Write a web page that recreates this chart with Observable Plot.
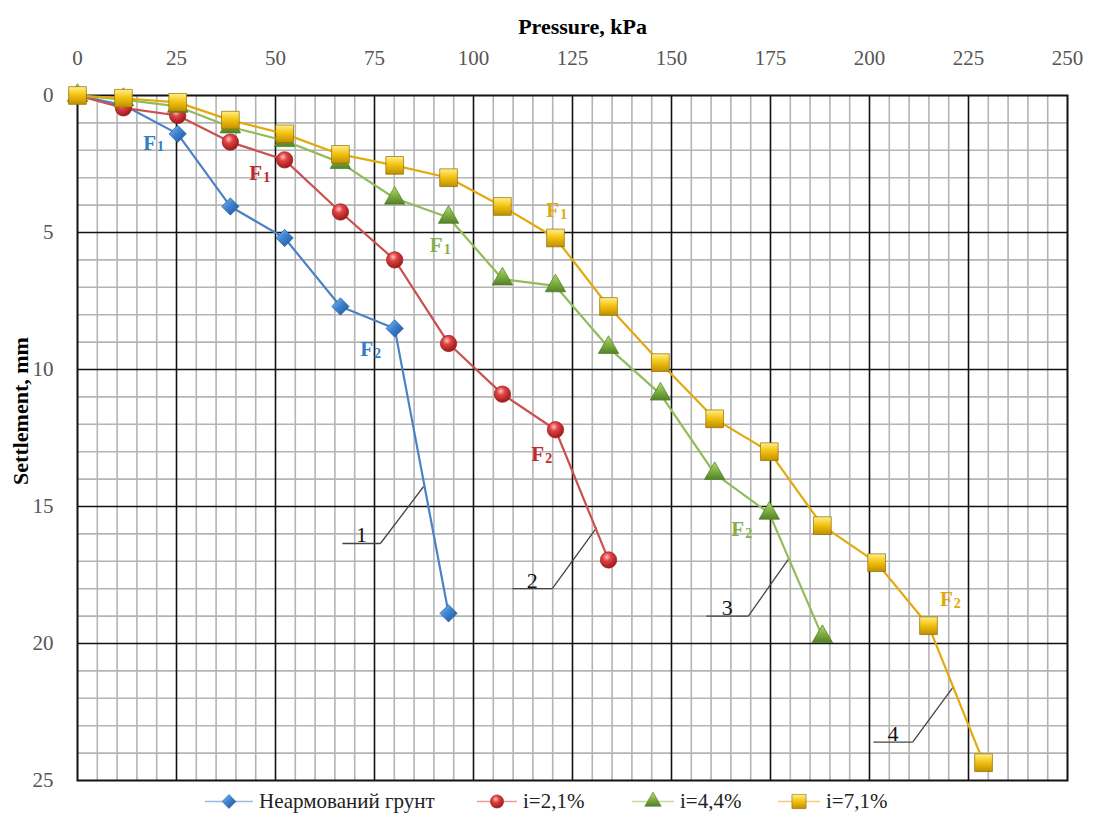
<!DOCTYPE html>
<html><head><meta charset="utf-8">
<script src="https://cdn.jsdelivr.net/npm/d3@7"></script>
<script src="https://cdn.jsdelivr.net/npm/@observablehq/plot@0.6"></script>
<style>
html,body{margin:0;padding:0;background:#fff;overflow:hidden;}
#chart svg{display:block;}
#legend{position:relative;height:33px;width:1093px;margin-top:-10px;font-family:"Liberation Serif","Times New Roman","DejaVu Serif",serif;font-size:21px;color:#222;}
.item{position:absolute;top:0;height:33px;display:flex;align-items:center;white-space:nowrap;}
.item svg{display:block;}
</style></head><body>
<div id="chart"></div>
<div id="legend"></div>
<script>
// ---- data ----
const pressure = [0, 11.6, 25.3, 38.6, 52.3, 66.4, 80.1, 93.7, 107.3, 120.7, 134.1, 147.2, 160.9, 174.7, 188.1, 201.8, 214.9, 228.8];
const seriesNames = ["Неармований грунт", "i=2,1%", "i=4,4%", "i=7,1%"];
const unreinforced = [0, 0.35, 1.4, 4.05, 5.2, 7.7, 8.5, 18.9];
const reinf21 = [0, 0.45, 0.73, 1.7, 2.35, 4.25, 6.0, 9.05, 10.9, 12.2, 16.95];
const reinf44 = [0, 0.15, 0.4, 1.15, 1.65, 2.45, 3.75, 4.45, 6.7, 6.95, 9.2, 10.9, 13.8, 15.25, 19.75];
const reinf71 = [0, 0.1, 0.25, 0.9, 1.4, 2.15, 2.55, 3.0, 4.05, 5.2, 7.7, 9.75, 11.8, 13.0, 15.7, 17.05, 19.35, 24.35];
const xTicks = [0, 25, 50, 75, 100, 125, 150, 175, 200, 225, 250];
const yTicks = [0, 5, 10, 15, 20, 25];

// F1 / F2 annotations
const fSeries = [0, 1, 2, 3, 0, 1, 2, 3];
const fSub = ["1", "1", "1", "1", "2", "2", "2", "2"];
const fX = [18.2, 45.0, 90.6, 120.0, 73.0, 116.2, 166.7, 219.4];
const fY = [1.73, 2.83, 5.47, 4.2, 9.27, 13.1, 15.84, 18.4];

// numbered callouts
const calloutText = ["1", "2", "3", "4"];
const calloutX1 = [66.9, 109.8, 158.8, 201.0];
const calloutX2 = [76.5, 119.9, 169.4, 210.9];
const calloutY = [16.35, 18.0, 19.0, 23.6];
const calloutTipX = [87.4, 131.1, 179.5, 221.2];
const calloutTipY = [14.27, 15.77, 16.93, 21.57];

// ---- styles ----
const lineColors = ["#4a82c4", "#c9514e", "#92bb5a", "#e3a90c"];
const symbols = ["diamond2", "circle", "triangle", "square"];
const symR = [7.8, 8.2, 7.6, 10];
const fills = ["url(#gBlue)", "url(#gRed)", "url(#gGreen)", "url(#gGold)"];
const strokes = ["#2a5e9c", "#9a2020", "#4f7a22", "#8f6d00"];
const labelColors = ["#2f7fc6", "#c0282a", "#86ad4a", "#e2a80a"];
const seriesValues = [unreinforced, reinf21, reinf44, reinf71];

const series = seriesValues.map((vals, i) => vals.map((s, j) => ({p: pressure[j], s, k: i})));

const minorX = d3.range(5, 250, 5).filter(v => v % 25 !== 0);
const majorX = d3.range(25, 250, 25);
const minorY = d3.range(1, 25, 1).filter(v => v % 5 !== 0);
const majorY = d3.range(5, 25, 5);

const fRows = fX.map((x, i) => ({x, y: fY[i], c: labelColors[fSeries[i]], sub: fSub[i]}));
const calloutRows = calloutText.map((t, i) => ({t, x1: calloutX1[i], x2: calloutX2[i], y: calloutY[i], tx: calloutTipX[i], ty: calloutTipY[i]}));

const marks = [
  Plot.ruleX(minorX, {stroke: "#b4b4b4", strokeWidth: 1.6}),
  Plot.ruleY(minorY, {stroke: "#b4b4b4", strokeWidth: 1.6}),
  Plot.ruleX(majorX, {stroke: "#111", strokeWidth: 1.6}),
  Plot.ruleY(majorY, {stroke: "#111", strokeWidth: 1.6}),
  Plot.frame({stroke: "#111", strokeWidth: 2}),
  Plot.axisX({anchor: "top", ticks: xTicks, tickSize: 0, tickPadding: 31, label: null, fontSize: 21}),
  Plot.axisY({anchor: "left", ticks: yTicks, tickSize: 0, tickPadding: 24, label: null, fontSize: 21}),
  Plot.text(["Pressure, kPa"], {frameAnchor: "top", textAnchor: "middle", dy: -77, dx: 10, fontWeight: "bold", fontSize: 22, fill: "#000"}),
  Plot.text(["Settlement, mm"], {frameAnchor: "left", textAnchor: "middle", rotate: -90, dx: -57, dy: -27, fontWeight: "bold", fontSize: 22, fill: "#000"}),
  // callouts
  Plot.link(calloutRows, {x1: "x1", y1: "y", x2: "x2", y2: "y", stroke: "#444", strokeWidth: 1.3}),
  Plot.link(calloutRows, {x1: "x2", y1: "y", x2: "tx", y2: "ty", stroke: "#444", strokeWidth: 1.3}),
  Plot.text(calloutRows, {x: d => (d.x1 + d.x2) / 2, y: "y", text: "t", lineAnchor: "bottom", dy: -1, fontSize: 22, fill: "#111"}),
];
series.forEach((rows, i) => {
  marks.push(Plot.line(rows, {x: "p", y: "s", stroke: lineColors[i], strokeWidth: 2.2}));
  marks.push(Plot.dot(rows, {x: "p", y: "s", symbol: () => symbols[i], r: symR[i], fill: fills[i], stroke: strokes[i], strokeWidth: 0.7}));
});
marks.push(
  Plot.text(fRows, {x: "x", y: "y", text: () => "F", fill: "c", fontWeight: "bold", fontSize: 21, textAnchor: "middle"}),
  Plot.text(fRows, {x: "x", y: "y", text: "sub", fill: "c", fontWeight: "bold", fontSize: 14, textAnchor: "middle", dx: 11, dy: 4})
);

const chart = Plot.plot({
  width: 1093,
  height: 795,
  marginTop: 95,
  marginLeft: 77,
  marginRight: 26,
  marginBottom: 15,
  style: {fontFamily: "'Liberation Serif', 'Times New Roman', 'DejaVu Serif', serif", color: "#555", background: "#fff"},
  x: {domain: [0, 250]},
  y: {domain: [0, 25], reverse: true},
  symbol: {type: "identity"},
  color: {type: "identity"},
  marks
});

// gradients for the glossy markers
const ns = "http://www.w3.org/2000/svg";
const defs = document.createElementNS(ns, "defs");
defs.innerHTML = `
<linearGradient id="gBlue" x1="0" y1="0" x2="1" y2="1">
  <stop offset="0" stop-color="#8cc0f2"/><stop offset="0.45" stop-color="#3d84d2"/><stop offset="1" stop-color="#1c4f94"/>
</linearGradient>
<radialGradient id="gRed" cx="0.4" cy="0.32" r="0.7">
  <stop offset="0" stop-color="#ffc2c2"/><stop offset="0.35" stop-color="#e04444"/><stop offset="1" stop-color="#9c1515"/>
</radialGradient>
<linearGradient id="gGreen" x1="0" y1="0" x2="0" y2="1">
  <stop offset="0" stop-color="#b2dc7a"/><stop offset="0.5" stop-color="#7fb040"/><stop offset="1" stop-color="#53822a"/>
</linearGradient>
<linearGradient id="gGold" x1="0" y1="0" x2="0" y2="1">
  <stop offset="0" stop-color="#fff08a"/><stop offset="0.45" stop-color="#f4c414"/><stop offset="1" stop-color="#c08e00"/>
</linearGradient>`;
chart.insertBefore(defs, chart.firstChild);
document.getElementById("chart").appendChild(chart);

// legend
const legendLeft = [205, 477, 632, 778];
const legendLineW = [48, 40, 42, 42];
const legend = document.getElementById("legend");
seriesNames.forEach((name, i) => {
  const item = document.createElement("div");
  item.className = "item";
  item.style.left = legendLeft[i] + "px";
  const w = legendLineW[i];
  const sym = d3.symbol(d3["symbol" + ({diamond2: "Diamond2", circle: "Circle", triangle: "Triangle", square: "Square"})[symbols[i]]], Math.PI * (symR[i] * 0.8) ** 2)();
  item.innerHTML = `<svg width="${w}" height="33"><line x1="0" x2="${w}" y1="16.5" y2="16.5" stroke="${lineColors[i]}" stroke-opacity="0.55" stroke-width="1.5"/><path d="${sym}" transform="translate(${w/2},16.5)" fill="${fills[i]}" stroke="${strokes[i]}" stroke-width="0.6"/></svg><span style="margin-left:6px">${name}</span>`;
  legend.appendChild(item);
});
</script>
</body></html>
